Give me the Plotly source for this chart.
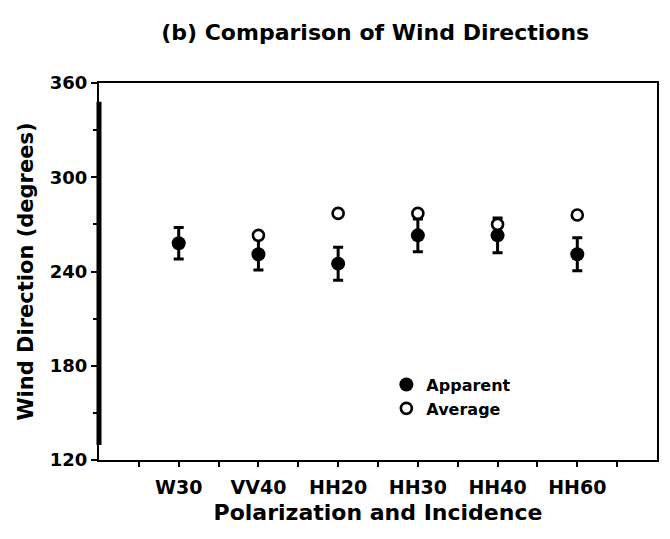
import plotly.graph_objects as go

# Category labels (polarization + incidence angle)
categories = ["W30", "VV40", "HH20", "HH30", "HH40", "HH60"]
positions = [1, 2, 3, 4, 5, 6]

# Apparent wind direction (degrees) with its uncertainty
apparent = [258, 251, 245, 263, 263, 251]
apparent_err = [10, 10, 10.5, 10.5, 11, 10.5]

# Average wind direction (degrees); none reported for W30
average = [None, 263, 277, 277, 270, 276]

y_ticks = [120, 180, 240, 300, 360]

FONT = "DejaVu Sans"

fig = go.Figure()

fig.add_trace(go.Scatter(
    x=positions, y=apparent, mode="markers", name="<b>Apparent</b>",
    marker=dict(symbol="circle", size=14, color="black"),
    error_y=dict(type="data", array=apparent_err, visible=True,
                 color="black", thickness=3, width=5),
))

fig.add_trace(go.Scatter(
    x=positions, y=average, mode="markers", name="<b>Average</b>",
    marker=dict(symbol="circle", size=11, color="white",
                line=dict(color="black", width=2.6)),
))

fig.update_layout(
    width=670, height=539,
    margin=dict(l=99, r=11, t=83, b=79),
    paper_bgcolor="white", plot_bgcolor="white",
    font=dict(family=FONT, color="black"),
    title=dict(text="<b>(b) Comparison of Wind Directions</b>",
               x=0.56, xanchor="center", y=0.94, yanchor="middle",
               font=dict(family=FONT, size=22, color="black")),
    showlegend=True,
    legend=dict(x=0.515, y=0.245, xanchor="left", yanchor="top",
                bgcolor="rgba(0,0,0,0)", borderwidth=0,
                font=dict(family=FONT, size=16, color="black"),
                itemwidth=30, tracegroupgap=0),
    xaxis=dict(
        range=[0, 7], tickvals=positions,
        ticktext=[f"<b>{c}</b>" for c in categories],
        tickfont=dict(family=FONT, size=19, color="black"),
        ticks="outside", ticklen=5, tickwidth=2, tickcolor="black",
        ticklabelstandoff=4,
        minor=dict(tick0=0.5, dtick=1, ticks="outside", ticklen=5,
                   tickwidth=2, tickcolor="black"),
        showline=True, linecolor="black", linewidth=2, mirror=True,
        showgrid=False, zeroline=False,
        title=dict(text="<b>Polarization and Incidence</b>",
                   font=dict(family=FONT, size=22, color="black"),
                   standoff=8),
    ),
    yaxis=dict(
        range=[120, 360], tickvals=y_ticks,
        ticktext=[f"<b>{v}</b>" for v in y_ticks],
        tickfont=dict(family=FONT, size=18, color="black"),
        ticks="outside", ticklen=6, tickwidth=2, tickcolor="black",
        minor=dict(dtick=30, ticks="outside", ticklen=4,
                   tickwidth=2, tickcolor="black"),
        showline=True, linecolor="black", linewidth=2, mirror=True,
        showgrid=False, zeroline=False,
        title=dict(text="<b>Wind Direction (degrees)</b>",
                   font=dict(family=FONT, size=21, color="black"),
                   standoff=10),
    ),
)

# heavier stroke along most of the left frame edge
fig.add_shape(type="line", xref="paper", yref="paper",
              x0=0, x1=0, y0=0.04, y1=0.95,
              line=dict(color="black", width=5))

fig.write_html("out.html")
